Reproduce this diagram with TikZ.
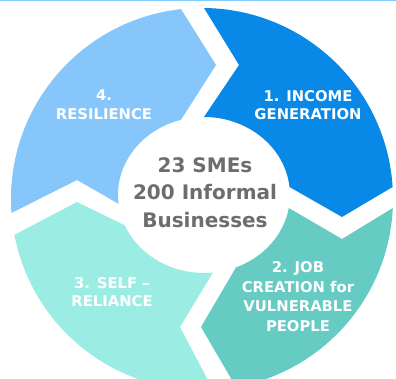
\documentclass[tikz,border=0pt]{standalone}
\usepackage{fontspec}
\setmainfont{DejaVu Sans}
\definecolor{cone}{RGB}{8,137,232}
\definecolor{ctwo}{RGB}{102,203,195}
\definecolor{cthree}{RGB}{155,237,228}
\definecolor{cfour}{RGB}{134,198,250}
\definecolor{ctext}{RGB}{110,108,108}
\definecolor{ctop}{RGB}{128,206,255}
\tikzset{
  seglabel/.style={text=white, font=\bfseries\fontsize{14.8}{18.5}\selectfont, align=center, inner sep=0pt},
  centerlabel/.style={text=ctext, font=\bfseries\fontsize{20}{27.5}\selectfont, align=center, inner sep=0pt}
}
\begin{document}
\begin{tikzpicture}[x=1pt,y=-1pt]
\useasboundingbox (0,0) rectangle (396,379);
\clip (0,0) rectangle (396,379);
\fill[ctop] (0,0) rectangle (396,1.3);
% segment 1
\fill[cone] (204,8) arc[start angle=-89.4, end angle=-3.6, radius=191]
  -- (342,217) -- (289.5,187)
  arc[start angle=-5.89, end angle=-90, x radius=86, y radius=78]
  -- (239,65) -- cycle;
% segment 2
\fill[ctwo] (392.8,208) arc[start angle=2.7, end angle=79.75, radius=191]
  -- (201,327) -- (236,267.4)
  arc[start angle=68.15, end angle=9.59, x radius=86, y radius=78]
  -- (342,239) -- cycle;
% segment 3
\fill[cthree] (213,389.7) arc[start angle=86.7, end angle=169.2, radius=191]
  -- (77,202) -- (124.8,225.3)
  arc[start angle=157.1, end angle=84.0, x radius=86, y radius=78]
  -- (180,327) -- cycle;
% segment 4
\fill[cfour] (11.5,212.95) arc[start angle=175.8, end angle=263.7, radius=191]
  -- (216,65) -- (181,119.8)
  arc[start angle=254.5, end angle=173.5, x radius=86, y radius=78]
  -- (77,180) -- cycle;
\node[seglabel] (l1) at (308,105) {1. INCOME\\GENERATION};
\node[seglabel, font=\bfseries\fontsize{14.8}{19.5}\selectfont] (l2) at (298,296.5) {2. JOB\\CREATION for\\VULNERABLE\\PEOPLE};
\node[seglabel] (l3) at (112,292) {3. SELF –\\RELIANCE};
\node[seglabel] (l4) at (104,104.5) {4.\\RESILIENCE};
\node[centerlabel] (c) at (205,192.5) {23 SMEs\\200 Informal\\Businesses};
\end{tikzpicture}
\end{document}
